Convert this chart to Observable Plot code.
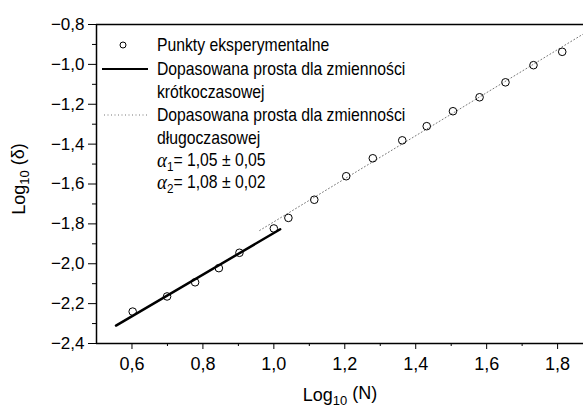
<!DOCTYPE html>
<html><head><meta charset="utf-8">
<script src="https://cdn.jsdelivr.net/npm/d3@7"></script>
<script src="https://cdn.jsdelivr.net/npm/@observablehq/plot@0.6"></script>
<style>html,body{margin:0;padding:0;background:#fff} svg{display:block}</style>
</head><body><div id="chart"></div>
<script>
// experimental points: log10(N), log10(delta)
const logN = [0.602, 0.699, 0.778, 0.845, 0.903, 1.000, 1.041, 1.114, 1.204, 1.279, 1.362, 1.431, 1.505, 1.580, 1.653, 1.732, 1.813];
const logDelta = [-2.240, -2.164, -2.093, -2.022, -1.945, -1.823, -1.770, -1.679, -1.561, -1.471, -1.381, -1.310, -1.235, -1.165, -1.090, -1.004, -0.937];
// fitted lines (end points)
const fitShortX = [0.555, 1.018];
const fitShortY = [-2.310, -1.827];
const fitLongX = [0.960, 1.873];
const fitLongY = [-1.833, -0.847];
// ticks
const xMajor = [0.6, 0.8, 1.0, 1.2, 1.4, 1.6, 1.8];
const xMinor = [0.7, 0.9, 1.1, 1.3, 1.5, 1.7];
const yMajor = [-2.4, -2.2, -2.0, -1.8, -1.6, -1.4, -1.2, -1.0, -0.8];
const yMinor = [-2.3, -2.1, -1.9, -1.7, -1.5, -1.3, -1.1, -0.9];
// texts
const legendLabels = ["Punkty eksperymentalne", "Dopasowana prosta dla zmienności", "krótkoczasowej", "Dopasowana prosta dla zmienności", "długoczasowej"];
const alphaValues = ["1,05 ± 0,05", "1,08 ± 0,02"];
const xLabel = ["Log", "10", " (N)"];
const yLabel = ["Log", "10", " (δ)"];

const points = logN.map((x, i) => ({x, y: logDelta[i]}));
const shortFit = fitShortX.map((x, i) => ({x, y: fitShortY[i]}));
const longFit = fitLongX.map((x, i) => ({x, y: fitLongY[i]}));

const FONT = '"Liberation Sans",Arial,sans-serif';
const fmt = d => d.toFixed(1).replace(".", ",").replace("-", "\u2212");

const plot = Plot.plot({
  width: 583, height: 410,
  marginLeft: 96, marginRight: 0, marginTop: 24, marginBottom: 67,
  style: {fontFamily: FONT, fontSize: "16px", color: "#000", background: "#fff"},
  x: {domain: [0.5, 1.873]},
  y: {domain: [-2.4, -0.8]},
  marks: [
    Plot.line(longFit, {x: "x", y: "y", stroke: "#777", strokeWidth: 1, strokeDasharray: "1,2.5", clip: true}),
    Plot.line(shortFit, {x: "x", y: "y", stroke: "#000", strokeWidth: 2.5}),
    Plot.dot(points, {x: "x", y: "y", r: 3.8, stroke: "#000", strokeWidth: 1, fill: "none"}),
    Plot.axisX(xMajor, {tickSize: 6, tickPadding: 8, tickFormat: fmt, label: null, fontSize: 18}),
    Plot.axisX(xMinor, {tickSize: 3, tickFormat: () => "", label: null}),
    Plot.axisY(yMajor, {tickSize: 8, tickPadding: 4, tickFormat: fmt, label: null, fontSize: 17}),
    Plot.axisY(yMinor, {tickSize: 4, tickFormat: () => "", label: null}),
    Plot.ruleY([-0.8, -2.4], {stroke: "#000", strokeWidth: 1.5}),
    Plot.ruleX([0.5], {stroke: "#000", strokeWidth: 1.5})
  ]
});
document.getElementById("chart").appendChild(plot);

const svg = d3.select(plot);
// axis labels
function subLabel(g, parts, size) {
  g.append("tspan").text(parts[0]);
  g.append("tspan").attr("dy", "0.3em").attr("font-size", size * 0.72).text(parts[1]);
  g.append("tspan").attr("dy", "-0.3em").text(parts[2]);
}
const xl = svg.append("text").attr("x", 340).attr("y", 401).attr("text-anchor", "middle")
  .attr("font-family", FONT).attr("font-size", 18).attr("fill", "#000");
subLabel(xl, xLabel, 18);
const yl = svg.append("text").attr("transform", "translate(25,179) rotate(-90)").attr("text-anchor", "middle")
  .attr("font-family", FONT).attr("font-size", 18).attr("fill", "#000");
subLabel(yl, yLabel, 18);

// legend
const lg = svg.append("g");
const rows = [45, 69, 92, 115, 138, 161, 183];
const txt = lg.append("g").attr("transform", "translate(157,0) scale(0.9,1)")
  .attr("font-family", FONT).attr("font-size", 17.5).attr("fill", "#000").attr("text-anchor", "start");
legendLabels.forEach((t, i) => {
  txt.append("text").attr("x", 0).attr("y", rows[i]).attr("dy", "0.36em").text(t);
});
alphaValues.forEach((v, i) => {
  const t = txt.append("text").attr("x", 0).attr("y", rows[5 + i]).attr("dy", "0.36em");
  t.append("tspan").attr("font-family", '"Liberation Serif",serif').attr("font-style", "italic").attr("font-size", 21).text("α");
  t.append("tspan").attr("dy", "0.3em").attr("font-size", 13).text(String(i + 1));
  t.append("tspan").attr("dy", "-0.3em").text("= " + v);
});
lg.append("circle").attr("cx", 123).attr("cy", rows[0]).attr("r", 3).attr("fill", "none").attr("stroke", "#000").attr("stroke-width", 1);
lg.append("line").attr("x1", 102).attr("x2", 148).attr("y1", rows[1]).attr("y2", rows[1]).attr("stroke", "#000").attr("stroke-width", 2);
lg.append("line").attr("x1", 104).attr("x2", 147).attr("y1", rows[3]).attr("y2", rows[3]).attr("stroke", "#777").attr("stroke-width", 1).attr("stroke-dasharray", "1,2.5");
</script></body></html>
